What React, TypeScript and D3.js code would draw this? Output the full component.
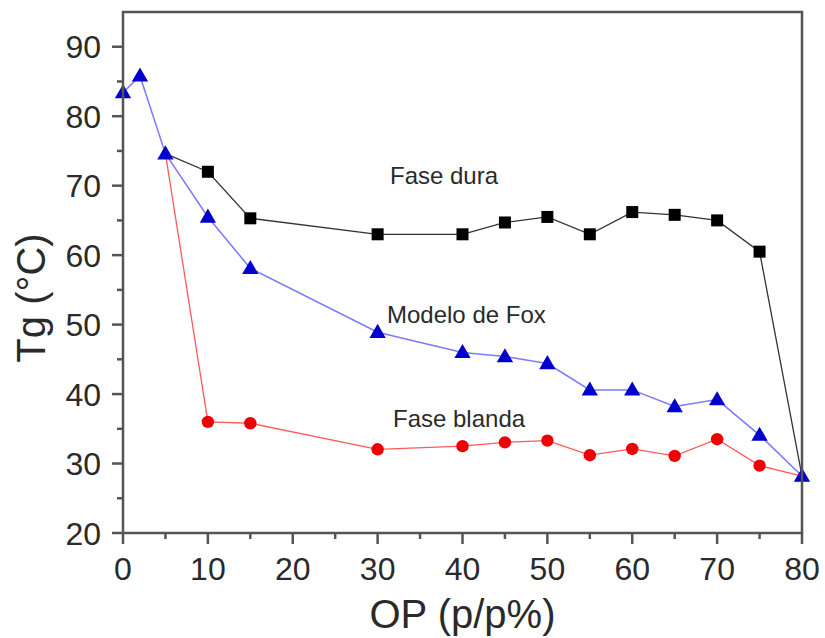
import React from "react";
import * as d3 from "d3";

const xDura = [5, 10, 15, 30, 40, 45, 50, 55, 60, 65, 70, 75, 80];
const yDura = [74.6, 72.0, 65.3, 63.0, 63.0, 64.7, 65.5, 63.0, 66.2, 65.8, 65.0, 60.5, 28.2];
const xBlanda = [5, 10, 15, 30, 40, 45, 50, 55, 60, 65, 70, 75, 80];
const yBlanda = [74.6, 36.0, 35.8, 32.05, 32.5, 33.05, 33.3, 31.2, 32.1, 31.1, 33.5, 29.7, 28.2];
const xFox = [0, 2, 5, 10, 15, 30, 40, 45, 50, 55, 60, 65, 70, 75, 80];
const yFox = [83.4, 85.8, 74.6, 65.5, 58.1, 48.9, 46.0, 45.4, 44.4, 40.6, 40.6, 38.2, 39.2, 34.1, 28.2];

const xTicks = [0, 10, 20, 30, 40, 50, 60, 70, 80];
const xMinor = [5, 15, 25, 35, 45, 55, 65, 75];
const yTicks = [20, 30, 40, 50, 60, 70, 80, 90];
const yMinor = [25, 35, 45, 55, 65, 75, 85];

const labels = [
  { text: "Fase dura", x: 390, y: 184 },
  { text: "Modelo de Fox", x: 387, y: 323 },
  { text: "Fase blanda", x: 393, y: 427 },
];

export default function App() {
  const W = 825, H = 638;
  const L = 123, R = 802, T = 12, B = 533;
  const x = d3.scaleLinear().domain([0, 80]).range([L, R]);
  const y = d3.scaleLinear().domain([20, 95]).range([B, T]);
  const font = "Liberation Sans, Arial, sans-serif";
  const axisColor = "#555";
  const textColor = "#2a2a2a";

  const mk = (xs: number[], ys: number[]) =>
    xs.map((v, i) => [v, ys[i]] as [number, number]);
  const line = d3.line<[number, number]>().x(d => x(d[0])).y(d => y(d[1]));
  const dura = mk(xDura, yDura);
  const blanda = mk(xBlanda, yBlanda);
  const fox = mk(xFox, yFox);
  const shared = new Set(xFox.filter((v, i) => i < 3 || i === xFox.length - 1));
  const own = (pts: [number, number][]) => pts.filter(d => !shared.has(d[0]));
  const tri = d3.symbol().type(d3.symbolTriangle).size(115)() as string;

  return (
    <svg width={W} height={H} style={{ position: "absolute", left: 0, top: 0, background: "#fff" }}>
      <rect x={0} y={0} width={W} height={H} fill="#fff" />
      <path d={line(dura) as string} fill="none" stroke="#333" strokeWidth={1.3} />
      <path d={line(blanda) as string} fill="none" stroke="#ff5a5a" strokeWidth={1.3} />
      <path d={line(fox) as string} fill="none" stroke="#7a7aff" strokeWidth={1.5} />
      {own(dura).map((d, i) => (
        <rect key={"s" + i} x={x(d[0]) - 6} y={y(d[1]) - 6} width={12} height={12} fill="#000" />
      ))}
      {own(blanda).map((d, i) => (
        <circle key={"c" + i} cx={x(d[0])} cy={y(d[1])} r={6.2} fill="#ee0000" />
      ))}
      {fox.map((d, i) => (
        <path key={"t" + i} d={tri} transform={`translate(${x(d[0])},${y(d[1]) + 1})`} fill="#0000cc" />
      ))}
      <rect x={L} y={T} width={R - L} height={B - T} fill="none" stroke={axisColor} strokeWidth={2.5} />
      {yTicks.map(t => (
        <g key={"y" + t}>
          <line x1={L - 11} x2={L} y1={y(t)} y2={y(t)} stroke={axisColor} strokeWidth={2.5} />
          <text x={L - 22} y={y(t)} dy="0.36em" textAnchor="end" fontFamily={font} fontSize={32} fill={textColor}>{t}</text>
        </g>
      ))}
      {yMinor.map(t => (
        <line key={"ym" + t} x1={L - 6} x2={L} y1={y(t)} y2={y(t)} stroke={axisColor} strokeWidth={2.5} />
      ))}
      {xTicks.map(t => (
        <g key={"x" + t}>
          <line x1={x(t)} x2={x(t)} y1={B} y2={B + 11} stroke={axisColor} strokeWidth={2.5} />
          <text x={x(t)} y={580} textAnchor="middle" fontFamily={font} fontSize={32} fill={textColor}>{t}</text>
        </g>
      ))}
      {xMinor.map(t => (
        <line key={"xm" + t} x1={x(t)} x2={x(t)} y1={B} y2={B + 6} stroke={axisColor} strokeWidth={2.5} />
      ))}
      <text x={(L + R) / 2} y={628} textAnchor="middle" fontFamily={font} fontSize={40} fill={textColor}>OP (p/p%)</text>
      <text transform="translate(45,298) rotate(-90)" textAnchor="middle" fontFamily={font} fontSize={40} fill={textColor}>Tg (°C)</text>
      {labels.map(l => (
        <text key={l.text} x={l.x} y={l.y} fontFamily={font} fontSize={24} fill={textColor}>{l.text}</text>
      ))}
    </svg>
  );
}
